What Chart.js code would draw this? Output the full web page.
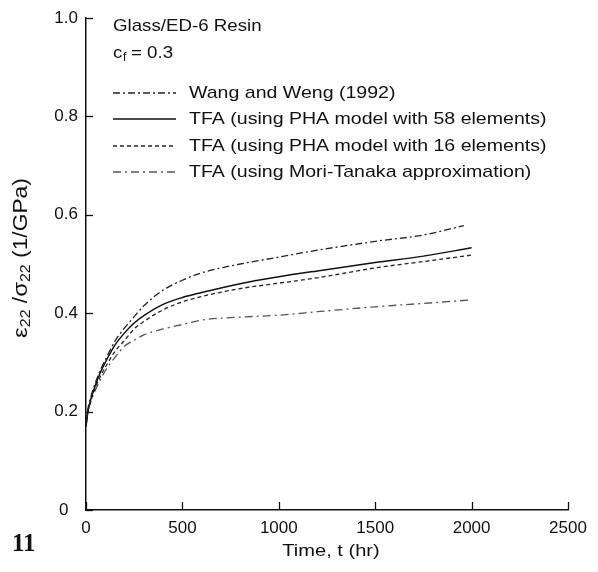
<!DOCTYPE html>
<html>
<head>
<meta charset="utf-8">
<script src="https://cdn.jsdelivr.net/npm/chart.js@4.4.1/dist/chart.umd.min.js"></script>
<style>
  body { margin: 0; background: #fff; }
  canvas { display: block; }
</style>
</head>
<body>
<canvas id="creepChart" width="598" height="572"></canvas>
<script>
// time (hr) and compliance values
const timeHours = [0, 10, 25, 50, 75, 100, 150, 200, 250, 300, 400, 500, 600, 800, 1000, 1200, 1500, 1750, 2000];
const wangTimes = [0, 10, 25, 50, 75, 100, 150, 200, 250, 300, 400, 500, 600, 800, 1000, 1200, 1500, 1750, 1960];
const wangWeng  = [0.17, 0.205, 0.23, 0.26, 0.285, 0.305, 0.343, 0.37, 0.393, 0.415, 0.447, 0.467, 0.482, 0.500, 0.514, 0.528, 0.546, 0.559, 0.578];
const tfa58     = [0.17, 0.20, 0.225, 0.255, 0.28, 0.30, 0.335, 0.36, 0.38, 0.395, 0.418, 0.432, 0.442, 0.460, 0.474, 0.486, 0.503, 0.516, 0.533];
const tfa16     = [0.17, 0.20, 0.222, 0.25, 0.272, 0.29, 0.322, 0.345, 0.368, 0.383, 0.407, 0.423, 0.434, 0.450, 0.461, 0.472, 0.492, 0.505, 0.518];
const moriTanaka = [0.17, 0.20, 0.22, 0.245, 0.265, 0.283, 0.31, 0.333, 0.345, 0.356, 0.368, 0.377, 0.386, 0.392, 0.396, 0.403, 0.413, 0.42, 0.427];

const seriesNames = [
  "Wang and Weng (1992)",
  "TFA (using PHA model with 58 elements)",
  "TFA (using PHA model with 16 elements)",
  "TFA (using Mori-Tanaka approximation)"
];
const xTicks = [0, 500, 1000, 1500, 2000, 2500];
const yTicks = [0, 0.2, 0.4, 0.6, 0.8, 1.0];

const FONT = "Liberation Sans, Arial, Helvetica, sans-serif";

function toPoints(xs, ys) {
  return xs.map((x, i) => ({ x: x, y: ys[i] }));
}

// text a bit wider than Arial, like the scanned Helvetica
function wideText(ctx, text, x, y, sx) {
  ctx.save();
  ctx.translate(x, y);
  ctx.scale(sx, 1);
  ctx.fillText(text, 0, 0);
  ctx.restore();
  return ctx.measureText(text).width * sx;
}

// draws inward ticks, the legend and the free text
const extrasPlugin = {
  id: "extras",
  afterDraw(chart) {
    const ctx = chart.ctx;
    const xs = chart.scales.x, ys = chart.scales.y;
    const area = chart.chartArea;
    ctx.save();
    ctx.strokeStyle = "#111";
    ctx.lineWidth = 1.3;
    ctx.setLineDash([]);
    xTicks.forEach(v => {
      const px = Math.round(xs.getPixelForValue(v)) + 0.5;
      ctx.beginPath();
      ctx.moveTo(px, area.bottom);
      ctx.lineTo(px, area.bottom - 8);
      ctx.stroke();
    });
    yTicks.forEach(v => {
      const py = Math.round(ys.getPixelForValue(v)) + 0.5;
      ctx.beginPath();
      ctx.moveTo(area.left, py);
      ctx.lineTo(area.left + 7, py);
      ctx.stroke();
    });

    // legend
    const rows = [93, 119, 146, 172];
    ctx.font = "17px " + FONT;
    ctx.textBaseline = "middle";
    ctx.fillStyle = "#111";
    chart.data.datasets.forEach((ds, i) => {
      ctx.strokeStyle = ds.borderColor;
      ctx.lineWidth = ds.borderWidth;
      ctx.setLineDash(ds.borderDash || []);
      ctx.beginPath();
      ctx.moveTo(113, rows[i]);
      ctx.lineTo(176, rows[i]);
      ctx.stroke();
      ctx.setLineDash([]);
      wideText(ctx, ds.label, 189, rows[i], 1.15);
    });

    // title block
    wideText(ctx, "Glass/ED-6 Resin", 113, 26, 1.1);
    wideText(ctx, "c", 113, 53, 1.1);
    ctx.font = "12px " + FONT;
    ctx.fillText("f", 123, 58);
    ctx.font = "17px " + FONT;
    wideText(ctx, "= 0.3", 131, 53, 1.1);

    // x axis title
    ctx.font = "17px " + FONT;
    const tw = ctx.measureText("Time, t (hr)").width * 1.18;
    wideText(ctx, "Time, t (hr)", 331 - tw / 2, 551, 1.18);

    // y axis title with subscripts
    ctx.save();
    ctx.translate(21, 258);
    ctx.rotate(-Math.PI / 2);
    ctx.scale(1.14, 1);
    ctx.textAlign = "left";
    let parts = [["\u03b5", 21, 0], ["22", 14, 5], [" /", 20, 0], ["\u03c3", 21, 0], ["22", 14, 5], [" (1/GPa)", 20, 0]];
    let total = 0;
    parts.forEach(p => { ctx.font = p[1] + "px " + FONT; total += ctx.measureText(p[0]).width; });
    let cx = -total / 2;
    parts.forEach(p => {
      ctx.font = p[1] + "px " + FONT;
      ctx.fillText(p[0], cx, p[2]);
      cx += ctx.measureText(p[0]).width;
    });
    ctx.restore();

    // figure number
    ctx.font = "bold 25px Liberation Serif, Times New Roman, serif";
    ctx.textBaseline = "alphabetic";
    ctx.fillText("11", 12, 551);
    ctx.restore();
  }
};

new Chart("creepChart", {
  type: "scatter",
  data: {
    datasets: [{
      label: seriesNames[0],
      data: toPoints(wangTimes, wangWeng),
      borderColor: "#222",
      borderWidth: 1.3,
      borderDash: [7, 3, 2, 3]
    }, {
      label: seriesNames[1],
      data: toPoints(timeHours, tfa58),
      borderColor: "#111",
      borderWidth: 1.5,
      borderDash: []
    }, {
      label: seriesNames[2],
      data: toPoints(timeHours, tfa16),
      borderColor: "#222",
      borderWidth: 1.3,
      borderDash: [4, 3]
    }, {
      label: seriesNames[3],
      data: toPoints(timeHours, moriTanaka),
      borderColor: "#555",
      borderWidth: 1.3,
      borderDash: [8, 4, 2, 4]
    }]
  },
  options: {
    responsive: false,
    animation: false,
    devicePixelRatio: 1,
    showLine: true,
    elements: {
      point: { radius: 0 },
      line: { cubicInterpolationMode: "monotone", fill: false }
    },
    layout: { padding: { left: 0, top: 18, right: 30, bottom: 0 } },
    plugins: {
      legend: { display: false },
      tooltip: { enabled: false }
    },
    scales: {
      x: {
        type: "linear",
        min: 0,
        max: 2500,
        afterFit: s => { s.height = 62; },
        afterBuildTicks: s => { s.ticks = xTicks.map(v => ({ value: v })); },
        grid: { display: false },
        border: { display: true, color: "#111", width: 1.5 },
        ticks: {
          color: "#111",
          padding: 0,
          font: { family: FONT, size: 17 },
          callback: v => String(v)
        }
      },
      y: {
        min: 0,
        max: 1,
        afterFit: s => { s.width = 86; },
        afterBuildTicks: s => { s.ticks = yTicks.map(v => ({ value: v })); },
        grid: { display: false },
        border: { display: true, color: "#111", width: 1.5 },
        ticks: {
          color: "#111",
          padding: 0,
          font: { family: FONT, size: 17 },
          // the zero sits left, under the leading digits of the other labels
          callback: v => v === 0 ? "0\u2007" : v.toFixed(1)
        }
      }
    }
  },
  plugins: [extrasPlugin]
});
</script>
</body>
</html>
